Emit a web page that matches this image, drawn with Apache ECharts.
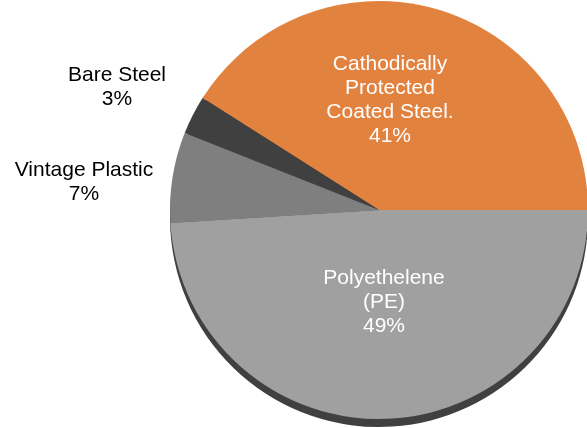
<!DOCTYPE html>
<html>
<head>
<meta charset="utf-8">
<script src="https://cdn.jsdelivr.net/npm/echarts@6/dist/echarts.min.js"></script>
<style>
html,body{margin:0;padding:0;background:#fff;}
#chart{width:587px;height:428px;}
</style>
</head>
<body>
<div id="chart"></div>
<script>
var categories = ['Cathodically\nProtected\nCoated Steel.', 'Bare Steel', 'Vintage Plastic', 'Polyethelene\n(PE)'];
var values = [41, 3, 7, 49];
var sliceColors = ['#E2823F', '#404040', '#7F7F7F', '#A0A0A0'];
var labelColors = ['#ffffff', '#000000', '#000000', '#ffffff'];

var labelSpots = [[390, 100], [117, 87], [84, 182], [384, 302]];

var frontData = categories.map(function (c, i) {
  return {
    name: c, value: values[i],
    itemStyle: { color: sliceColors[i] },
    label: { color: labelColors[i] }
  };
});
var backData = categories.map(function (c, i) {
  return { name: c, value: values[i], itemStyle: { color: '#404040' } };
});

var chart = echarts.init(document.getElementById('chart'), null, { renderer: 'canvas' });
chart.setOption({
  animation: false,
  backgroundColor: '#ffffff',
  series: [
    {
      type: 'pie',
      silent: true,
      center: [379, 218],
      radius: 209,
      startAngle: 0,
      clockwise: false,
      label: { show: false },
      labelLine: { show: false },
      itemStyle: { borderWidth: 0 },
      data: backData,
      z: 1
    },
    {
      type: 'pie',
      center: [379, 210],
      radius: 209,
      startAngle: 0,
      clockwise: false,
      itemStyle: { borderWidth: 0 },
      labelLine: { show: false },
      label: {
        show: true,
        position: 'inside',
        formatter: function (p) { return p.name + '\n' + p.value + '%'; },
        fontFamily: 'Liberation Sans, Arial, sans-serif',
        fontSize: 21,
        lineHeight: 24,
        align: 'center'
      },
      labelLayout: function (p) {
        var s = labelSpots[p.dataIndex];
        return { x: s[0], y: s[1], align: 'center', verticalAlign: 'middle' };
      },
      data: frontData,
      z: 2
    }
  ]
});
</script>
</body>
</html>
